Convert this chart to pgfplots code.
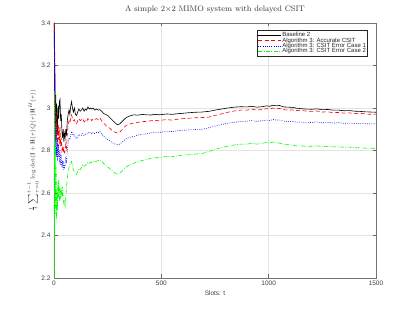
\documentclass[border=0pt]{standalone}
\usepackage{pgfplots}
\pgfplotsset{compat=1.18}
\usepackage{pgfplotstable}
\usepackage{fontspec}
\newfontfamily\helv{Liberation Sans}

\pgfplotstableread{
t v
1 3.40
2 3.12
3 3.30
4 2.96
5 3.16
6 2.92
8 3.06
10 2.90
12 3.02
14 2.93
16 2.88
18 2.98
20 3.01
22 2.95
25 3.03
28 3.04
31 2.94
34 2.97
37 2.89
40 2.86
43 2.90
46 2.84
49 2.88
52 2.86
55 2.90
58 2.87
62 2.94
66 2.97
70 2.99
74 2.97
78 3.01
82 3.03
86 3.00
90 2.98
95 3.00
100 2.97
105 2.965
110 2.98
116 2.995
122 2.985
128 2.99
134 3.00
140 2.985
146 2.995
152 2.99
158 3.005
164 2.995
170 3.00
176 2.995
182 3.00
190 2.99
198 2.995
206 2.99
214 2.992
222 2.985
230 2.975
240 2.97
250 2.965
260 2.955
270 2.945
280 2.935
290 2.925
298 2.921
306 2.925
316 2.935
326 2.945
336 2.955
348 2.96
360 2.965
372 2.968
390 2.966
410 2.97
430 2.968
450 2.967
470 2.97
490 2.968
510 2.97
526 2.972
550 2.97
575 2.973
600 2.975
630 2.978
660 2.98
690 2.981
720 2.984
750 2.99
780 2.995
810 3.0
840 3.004
870 3.006
900 3.005
920 3.008
945 3.004
970 3.006
990 3.01
1005 3.008
1020 3.013
1035 3.01
1050 3.012
1070 3.005
1090 3.004
1110 3.003
1130 2.999
1150 2.997
1175 2.995
1200 2.994
1225 2.996
1250 2.992
1275 2.993
1300 2.99
1325 2.99
1350 2.987
1375 2.988
1400 2.985
1425 2.984
1450 2.982
1475 2.981
1500 2.98
}\baseline

\pgfplotstableread{
t v
1 3.40
2 3.22
3 2.90
4 3.26
5 2.86
6 3.06
8 2.84
10 2.98
12 2.86
14 2.93
16 2.82
18 2.91
20 2.85
22 2.92
25 2.83
28 2.91
31 2.82
34 2.86
37 2.80
40 2.82
43 2.79
46 2.81
49 2.79
52 2.80
55 2.83
58 2.81
62 2.88
66 2.92
70 2.94
74 2.93
78 2.95
82 2.967
86 2.95
90 2.94
95 2.945
100 2.93
105 2.925
110 2.94
116 2.95
122 2.94
128 2.945
134 2.95
140 2.935
146 2.94
152 2.935
158 2.95
164 2.945
170 2.95
176 2.94
182 2.95
190 2.945
198 2.95
206 2.945
214 2.953
222 2.94
230 2.93
240 2.92
250 2.91
260 2.905
270 2.895
280 2.888
290 2.884
298 2.882
306 2.886
316 2.897
326 2.908
336 2.918
348 2.922
360 2.927
372 2.929
390 2.932
410 2.937
430 2.936
450 2.94
470 2.942
490 2.94
510 2.944
526 2.945
550 2.943
575 2.947
600 2.95
630 2.952
660 2.954
690 2.955
720 2.957
750 2.965
780 2.972
810 2.98
840 2.986
870 2.99
900 2.99
920 2.995
945 2.99
970 2.993
990 2.997
1005 2.995
1020 3.0
1035 2.996
1050 2.998
1070 2.992
1090 2.99
1110 2.991
1130 2.988
1150 2.99
1175 2.985
1200 2.984
1225 2.986
1250 2.981
1275 2.982
1300 2.978
1325 2.979
1350 2.976
1375 2.977
1400 2.974
1425 2.975
1450 2.972
1475 2.97
1500 2.971
}\accurate

\pgfplotstableread{
t v
1 2.62
2 3.36
3 2.76
4 3.12
5 2.82
6 2.98
8 2.78
10 2.92
12 2.77
14 2.86
16 2.75
18 2.84
20 2.77
22 2.83
25 2.74
28 2.80
31 2.73
34 2.78
37 2.72
40 2.75
43 2.71
46 2.74
49 2.72
52 2.73
55 2.76
58 2.74
62 2.80
66 2.84
70 2.86
74 2.85
78 2.87
82 2.89
86 2.88
90 2.87
95 2.875
100 2.86
105 2.855
110 2.865
116 2.875
122 2.87
128 2.872
134 2.88
140 2.87
146 2.877
152 2.875
158 2.885
164 2.88
170 2.885
176 2.877
182 2.885
190 2.88
198 2.885
206 2.883
214 2.89
222 2.878
230 2.868
240 2.86
250 2.852
260 2.845
270 2.838
280 2.832
290 2.829
298 2.827
306 2.83
316 2.838
326 2.847
336 2.855
348 2.86
360 2.864
372 2.866
390 2.872
410 2.877
430 2.878
450 2.883
470 2.886
490 2.885
510 2.888
526 2.89
550 2.889
575 2.893
600 2.895
630 2.897
660 2.899
690 2.9
720 2.907
750 2.915
780 2.922
810 2.928
840 2.933
870 2.936
900 2.938
920 2.941
945 2.937
970 2.94
990 2.943
1005 2.941
1020 2.946
1035 2.943
1050 2.944
1070 2.938
1090 2.936
1110 2.937
1130 2.933
1150 2.934
1175 2.931
1200 2.932
1225 2.934
1250 2.93
1275 2.932
1300 2.929
1325 2.931
1350 2.928
1375 2.929
1400 2.927
1425 2.928
1450 2.926
1475 2.925
1500 2.926
}\errone

\pgfplotstableread{
t v
1 2.20
2 3.08
3 2.40
4 2.92
5 2.56
6 2.82
8 2.50
10 2.72
12 2.475
14 2.60
16 2.52
18 2.65
20 2.58
22 2.66
25 2.56
28 2.63
31 2.57
34 2.62
37 2.58
40 2.63
43 2.57
46 2.55
49 2.56
52 2.537
55 2.58
58 2.62
62 2.67
66 2.70
70 2.72
74 2.733
78 2.74
82 2.748
86 2.73
90 2.71
95 2.70
100 2.69
105 2.686
110 2.70
116 2.715
122 2.71
128 2.72
134 2.733
140 2.725
146 2.73
152 2.735
158 2.745
164 2.74
170 2.745
176 2.742
182 2.748
190 2.745
198 2.75
206 2.752
214 2.756
222 2.75
230 2.74
240 2.73
250 2.722
260 2.715
270 2.705
280 2.697
290 2.691
298 2.688
306 2.692
316 2.703
326 2.713
336 2.722
348 2.73
360 2.736
372 2.74
390 2.747
410 2.753
430 2.757
450 2.763
470 2.766
490 2.766
510 2.77
526 2.772
550 2.771
575 2.775
600 2.778
630 2.78
660 2.783
690 2.786
720 2.795
750 2.805
780 2.814
810 2.82
840 2.826
870 2.83
900 2.83
920 2.834
945 2.83
970 2.833
990 2.838
1005 2.835
1020 2.84
1035 2.836
1050 2.835
1070 2.83
1090 2.827
1110 2.826
1130 2.822
1150 2.822
1175 2.819
1200 2.82
1225 2.822
1250 2.818
1275 2.82
1300 2.817
1325 2.818
1350 2.815
1375 2.816
1400 2.813
1425 2.813
1450 2.811
1475 2.81
1500 2.811
}\errtwo

\begin{document}
\begin{tikzpicture}
\begin{axis}[
  scale only axis, width=322pt, height=255pt,
  xmin=0, xmax=1500, ymin=2.2, ymax=3.4,
  xtick={0,500,1000,1500},
  ytick={2.2,2.4,2.6,2.8,3.0,3.2,3.4},
  /pgf/number format/1000 sep={},
  /pgf/number format/assume math mode=true,
  tick align=inside, major tick length=3.5pt,
  tick style={black!60, line width=0.5pt},
  axis line style={black!55, line width=0.6pt},
  grid=major, grid style={gray!22, line width=0.6pt},
  ticklabel style={font=\helv\fontsize{6.5}{7}\selectfont, text=black!75},
  xticklabel style={yshift=1pt},
  yticklabel style={xshift=0pt},
  xlabel={Slots: t},
  xlabel style={font=\helv\fontsize{6.5}{7}\selectfont, text=black!75, at={(axis description cs:0.5,-0.059)}, anchor=center},
  ylabel={$\frac{1}{t}\sum_{\tau=0}^{t-1}\log\det(\mathbf{I}+\mathbf{H}(\tau)Q(\tau)\mathbf{H}^H(\tau))$},
  ylabel style={font=\fontsize{6}{7}\selectfont, text=black!75, at={(axis description cs:-0.065,0.5)}, anchor=center},
  title={A simple 2$\times$2 MIMO system with delayed CSIT},
  title style={font=\fontsize{8}{9}\selectfont, text=black!80, at={(axis description cs:0.5,1.02)}, anchor=base},
  legend style={at={(axis description cs:0.975,0.971)}, anchor=north east,
    font=\helv\fontsize{6}{6}\selectfont, draw=black!85, line width=0.6pt,
    inner sep=1pt, row sep=-2.2pt,
    nodes={inner sep=0.8pt, text=black!85}},
  legend cell align=left,
  legend image code/.code={\draw[#1] plot coordinates {(0pt,0pt) (23pt,0pt)};},
]
\addplot[black, line width=0.6pt] table[x=t,y=v]{\baseline};
\addlegendentry{Baseline 2}
\addplot[red, line width=0.6pt, dash pattern=on 4pt off 2.5pt] table[x=t,y=v]{\accurate};
\addlegendentry{Algorithm 3: Accurate CSIT}
\addplot[blue, line width=0.6pt, dash pattern=on 0.8pt off 1.4pt] table[x=t,y=v]{\errone};
\addlegendentry{Algorithm 3: CSIT Error Case 1}
\addplot[green, line width=0.6pt, dash pattern=on 4pt off 1.5pt on 0.8pt off 1.5pt] table[x=t,y=v]{\errtwo};
\addlegendentry{Algorithm 3: CSIT Error Case 2}
\end{axis}
\pgfresetboundingbox
\path[use as bounding box] ([xshift=-54pt,yshift=-34pt]current axis.south west) rectangle ([xshift=39pt,yshift=23pt]current axis.north east);
\end{tikzpicture}
\end{document}
